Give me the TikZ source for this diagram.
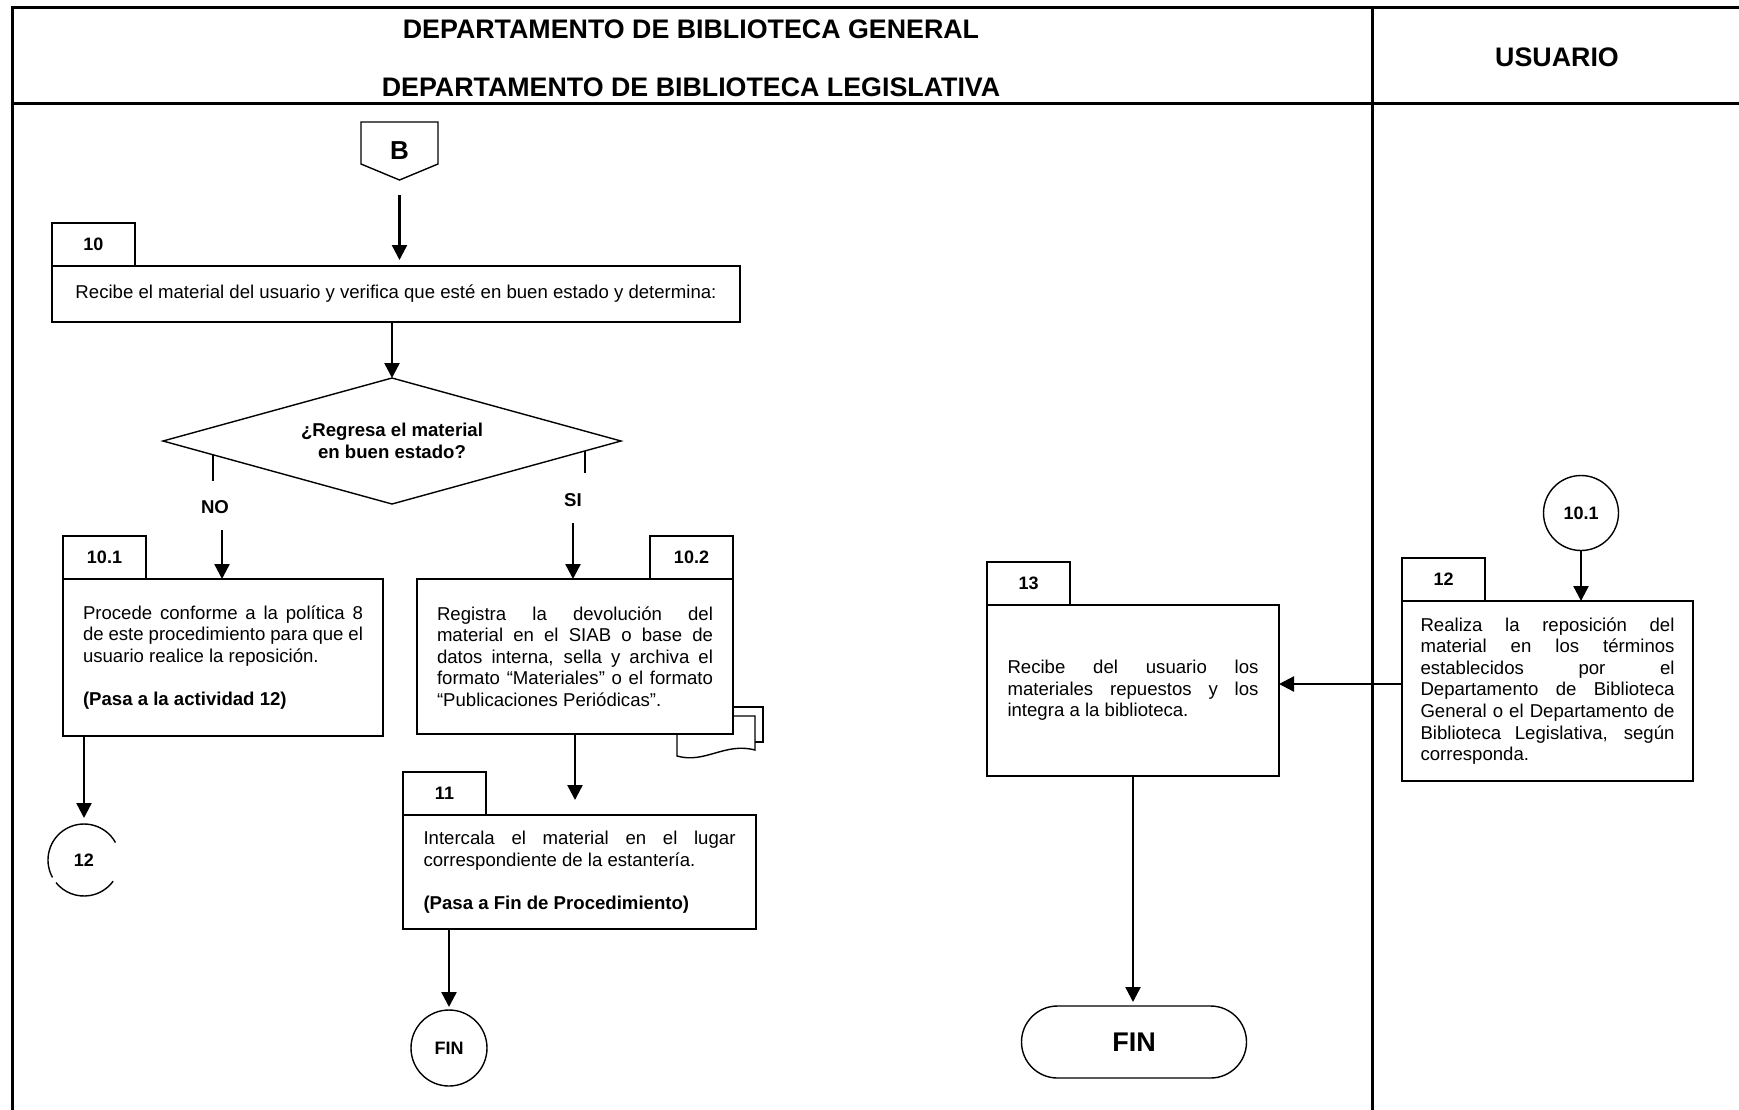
\documentclass[tikz,border=0pt]{standalone}
\usepackage{fontspec}
\setmainfont{Liberation Sans}
\usetikzlibrary{arrows.meta,calc,shapes.geometric,shapes.misc}
\hyphenpenalty=10000
\exhyphenpenalty=10000
\setlength{\parindent}{0pt}
\newcommand{\bodyfont}{\fontsize{9.3}{10.8}\selectfont}
\newcommand{\tabfont}{\bfseries\fontsize{9}{10}\selectfont}

\begin{document}
\begin{tikzpicture}[x=0.5pt,y=-0.5pt,>={Triangle[width=7.5pt,length=7.5pt]},
  every node/.style={inner sep=0pt,outer sep=0pt},
  frameline/.style={line width=1.5pt},
  boxline/.style={line width=0.7pt},
  flow/.style={->,line width=1.2pt},
  actbox/.style={draw,boxline,fill=white,font=\bodyfont,align=justify},
  numtab/.style={draw,boxline,anchor=south west,minimum width=41.5pt,minimum height=21.5pt,font=\tabfont},
  decision/.style={diamond,draw,boxline,aspect=3.6,minimum width=229pt,minimum height=63pt,align=center,font=\bfseries\bodyfont},
  connector/.style={circle,draw,boxline,minimum size=37.5pt,font=\tabfont},
  endterm/.style={rounded rectangle,draw,boxline,minimum width=112.5pt,minimum height=36pt,font=\bfseries\fontsize{13.5}{15}\selectfont},
  lane/.style={font=\bfseries\fontsize{13.4}{15}\selectfont},
  branch/.style={font=\bfseries\bodyfont}]
\useasboundingbox(0,0)rectangle(1739,1109);
% swimlanes
\draw[frameline](12,1130)--(12,7)--(1760,7);
\draw[frameline](12,103)--(1760,103);
\draw[frameline](1372,7)--(1372,1130);
\node[lane](dep1)at(691,29){DEPARTAMENTO DE BIBLIOTECA GENERAL};
\node[lane](dep2)at(691,87){DEPARTAMENTO DE BIBLIOTECA LEGISLATIVA};
\node[lane](usr)at(1557,57){USUARIO};
% off-page connector B
\node[font=\bfseries\fontsize{13}{15}\selectfont,minimum width=38.5pt,minimum height=29pt](B)at(399.5,151){B};
\draw[boxline](B.north west)--(B.north east)--([yshift=8pt]B.south east)--(B.south)
  --([yshift=8pt]B.south west)--cycle;
% activity 10 and decision
\node[actbox,align=center,minimum width=344pt,minimum height=28pt](n10)at(396,294)
  {Recibe el material del usuario y verifica que esté en buen estado y determina:};
\node[numtab](t10)at(n10.north west){10};
\node[decision](dia)at(392,441){¿Regresa el material\\en buen estado?};
% documents behind 10.2
\draw[boxline,fill=white](685,707)rectangle(763,742);
\draw[boxline,fill=white](677,716)--(755,716)--(755,750)
  ..controls(725,742)and(705,764)..(677,756)--cycle;
% left lane activities
\node[actbox,minimum width=160pt,minimum height=78.5pt,text width=140pt](n101)at(223,657.5)
  {Procede conforme a la política 8\linebreak de este procedimiento para que el\linebreak
   usuario realice la reposición.\par\vspace{10.8pt}\textbf{(Pasa a la actividad 12)}};
\node[numtab](t101)at(n101.north west){10.1};
\node[actbox,minimum width=158pt,minimum height=77.5pt,text width=138pt](n102)at(575,656.5)
  {Registra la devolución del\linebreak material en el SIAB o base de\linebreak
   datos interna, sella y archiva el\linebreak formato “Materiales” o el formato\linebreak
   “Publicaciones Periódicas”.};
\node[numtab,anchor=south east](t102)at(n102.north east){10.2};
\node[actbox,minimum width=176.5pt,minimum height=57pt,text width=156pt](n11)at(579.5,872)
  {Intercala el material en el lugar\linebreak correspondiente de la estantería.\par
   \vspace{10.8pt}\textbf{(Pasa a Fin de Procedimiento)}};
\node[numtab](t11)at(n11.north west){11};
\node[circle,minimum size=36pt,font=\tabfont](c12)at(84,860){12};
\draw[boxline](c12.29)arc[start angle=29,end angle=209,radius=18pt];
\draw[boxline](c12.219)arc[start angle=219,end angle=324,radius=18pt];
\node[connector,minimum size=38pt](fin1)at(449,1048){FIN};
\node[actbox,minimum width=146pt,minimum height=85.5pt,text width=125.5pt](n13)at(1133,690.5)
  {Recibe del usuario los\linebreak materiales repuestos y los\linebreak integra a la biblioteca.};
\node[numtab](t13)at(n13.north west){13};
\node[endterm](fin2)at(1134,1042){FIN};
% user lane
\node[connector](c101)at(1581,513){10.1};
\node[actbox,minimum width=145.5pt,minimum height=90pt,text width=127pt](n12)at(1547.5,691)
  {Realiza la reposición del\linebreak material en los términos\linebreak establecidos por el\linebreak
   Departamento de Biblioteca\linebreak General o el Departamento de\linebreak
   Biblioteca Legislativa, según\linebreak corresponda.};
\node[numtab](t12)at(n12.north west){12};
% branches
\coordinate(noS)at($(dia.west)!0.218!(dia.south)$);
\coordinate(siS)at($(dia.east)!0.157!(dia.south)$);
\draw[line width=1pt](noS)--++(0,26);
\draw[line width=1pt](siS)--++(0,22);
\node[branch](no)at(215,507){NO};
\node[branch](si)at(573,500){SI};
\coordinate(noA)at(222,530);
\coordinate(siA)at(573,523);
% flow
\draw[flow,shorten >=3pt]([yshift=-7.5pt]B.south)--(B.south|-n10.north);
\draw[flow](dia.north|-n10.south)--(dia.north);
\draw[flow](noA)--(noA|-n101.north);
\draw[flow](siA)--(siA|-n102.north);
\draw[flow,shorten >=3pt](c12.north|-n101.south)--(c12.north);
\draw[flow,shorten >=7.5pt](n102.south)--(n102.south|-n11.north);
\draw[flow,shorten >=1.5pt](fin1.north|-n11.south)--(fin1.north);
\draw[flow](c101.south)--(c101.south|-n12.north);
\draw[flow]([yshift=3.5pt]n12.west)--([yshift=3.5pt]n12.west-|n13.east);
\draw[flow,shorten >=2pt](n13.south)--(n13.south|-fin2.north);
\end{tikzpicture}
\end{document}
